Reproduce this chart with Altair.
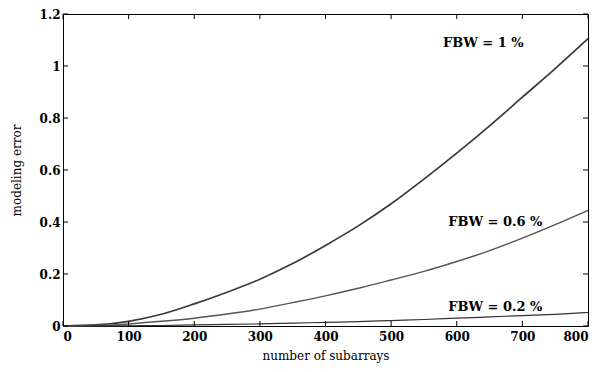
import altair as alt
import pandas as pd

# ---- data ----
subarrays = [0, 50, 100, 150, 200, 250, 300, 350, 400, 450, 500, 550, 600, 650, 700, 750, 800]
err_fbw_1 = [0.0, 0.004, 0.018, 0.045, 0.085, 0.13, 0.18, 0.24, 0.31, 0.385, 0.47, 0.565, 0.665, 0.77, 0.88, 0.99, 1.105]
err_fbw_06 = [0.0, 0.002, 0.008, 0.018, 0.03, 0.046, 0.065, 0.09, 0.116, 0.145, 0.177, 0.21, 0.248, 0.29, 0.338, 0.39, 0.445]
err_fbw_02 = [0.0, 0.0, 0.001, 0.002, 0.004, 0.006, 0.008, 0.011, 0.014, 0.017, 0.021, 0.025, 0.03, 0.035, 0.04, 0.045, 0.052]

series_names = ["FBW = 1 %", "FBW = 0.6 %", "FBW = 0.2 %"]
label_x = [579, 587, 587]
label_y = [1.09, 0.40, 0.073]

x_ticks = [0, 100, 200, 300, 400, 500, 600, 700, 800]
y_ticks = [0, 0.2, 0.4, 0.6, 0.8, 1, 1.2]

rows = []
for name, vals in zip(series_names, [err_fbw_1, err_fbw_06, err_fbw_02]):
    for x, v in zip(subarrays, vals):
        rows.append({"n": x, "err": v, "series": name})
df = pd.DataFrame(rows)
labels = pd.DataFrame({"n": label_x, "err": label_y, "text": series_names})
xt = pd.DataFrame({"n": x_ticks})
yt = pd.DataFrame({"err": y_ticks})

W, H = 525, 312
TL = 5  # inward tick length (px)
FONT = "DejaVu Serif"

xs = alt.Scale(domain=[0, 800], nice=False, zero=False)
ys = alt.Scale(domain=[0, 1.2], nice=False, zero=False)

lines = alt.Chart(df).mark_line(interpolate="monotone").encode(
    x=alt.X("n:Q", scale=xs, title="number of subarrays",
            axis=alt.Axis(values=x_ticks, format="d", grid=False,
                          ticks=False, domain=False, labelPadding=5,
                          labelFont=FONT, labelFontSize=12, labelFontWeight="bold",
                          labelColor="black",
                          titleFont=FONT, titleFontSize=12, titleFontWeight="normal",
                          titleColor="black", titleY=24, titleBaseline="top")),
    y=alt.Y("err:Q", scale=ys, title="modeling error",
            axis=alt.Axis(values=y_ticks, format="~g", grid=False,
                          ticks=False, domain=False, labelPadding=3,
                          labelFont=FONT, labelFontSize=12, labelFontWeight="bold",
                          labelColor="black",
                          titleFont=FONT, titleFontSize=12, titleFontWeight="normal",
                          titleColor="black", titleX=-40, titleY=H / 2)),
    color=alt.Color("series:N", scale=alt.Scale(domain=series_names,
                                                range=["#3a3a3a", "#555555", "#333333"]),
                    legend=None),
    strokeWidth=alt.StrokeWidth("series:N", scale=alt.Scale(domain=series_names,
                                                            range=[1.7, 1.2, 1.0]),
                                legend=None),
)

# inward ticks on all four sides of the frame
tick_style = dict(color="black", strokeWidth=1)
xb = alt.Chart(xt).mark_rule(**tick_style).encode(
    x=alt.X("n:Q", scale=xs), y=alt.value(H), y2=alt.value(H - TL))
xtp = alt.Chart(xt).mark_rule(**tick_style).encode(
    x=alt.X("n:Q", scale=xs), y=alt.value(0), y2=alt.value(TL))
yl = alt.Chart(yt).mark_rule(**tick_style).encode(
    y=alt.Y("err:Q", scale=ys), x=alt.value(0), x2=alt.value(TL))
yr = alt.Chart(yt).mark_rule(**tick_style).encode(
    y=alt.Y("err:Q", scale=ys), x=alt.value(W), x2=alt.value(W - TL))

texts = alt.Chart(labels).mark_text(align="left", baseline="middle", font=FONT,
                                    fontSize=13, fontWeight="bold", color="black").encode(
    x=alt.X("n:Q", scale=xs),
    y=alt.Y("err:Q", scale=ys),
    text="text:N",
)

chart = (lines + xb + xtp + yl + yr + texts).properties(
    width=W, height=H,
    autosize=alt.AutoSizeParams(type="none"),
    padding={"left": 55, "top": 6, "right": 4, "bottom": 38},
    background="white",
).configure_view(stroke="black", strokeWidth=1)

chart.save("out.html", embed_options={"renderer": "svg", "actions": False})
